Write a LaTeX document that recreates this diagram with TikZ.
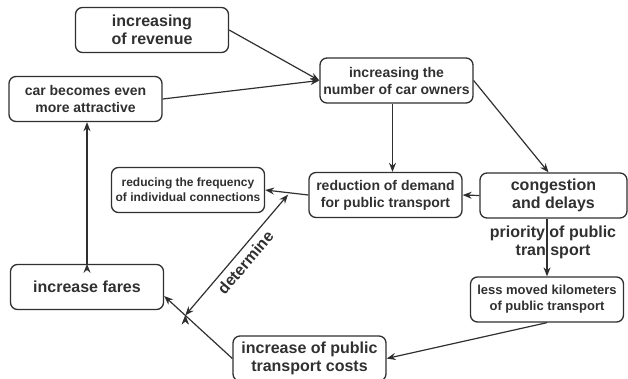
\documentclass[tikz,border=0pt]{standalone}
\usepackage{fontspec}
\setmainfont{Liberation Sans}
\usetikzlibrary{arrows.meta,positioning}
\definecolor{inkgray}{HTML}{303030}
\tikzset
{
    causebox/.style  = {rectangle, rounded corners=7pt, draw=inkgray, line width=1.3pt, align=center, minimum width=153pt, minimum height=45pt, inner sep=1pt, text=inkgray, font=\bfseries\fontsize{14}{17}\selectfont},
    bigtext/.style   = {font=\bfseries\fontsize{16}{18.5}\selectfont},
    smalltext/.style = {font=\bfseries\fontsize{12}{15}\selectfont},
    link/.style      = {draw=inkgray, line width=1.2pt, ->, >={Stealth[length=9pt,width=7pt]}},
    twolink/.style   = {draw=inkgray, line width=1.2pt, <->, >={Stealth[length=9pt,width=7pt]}},
    edgetext/.style  = {text=inkgray, align=center, font=\bfseries\fontsize{16}{18}\selectfont}
}

\begin{document}
\begin{tikzpicture}[x=1pt, y=-1pt]
   \useasboundingbox (0,0) rectangle (628,378);

   \node (rev)   [causebox, bigtext]                      at (152, 30)    {increasing\\of revenue};
   \node (car)   [causebox]                               at (85.5, 99)   {car becomes even\\more attractive};
   \node (own)   [causebox]                               at (396.5, 80.5) {increasing the\\number of car owners};
   \node (freq)  [causebox, smalltext]                    at (188, 190)   {reducing the frequency\\of individual connections};
   \node (dem)   [causebox]                               at (385.5, 195) {reduction of demand\\for public transport};
   \node (cong)  [causebox, bigtext, minimum width=147pt] at (553.5, 195.5) {congestion\\and delays};
   \node (less)  [causebox, font=\bfseries\fontsize{13}{16}\selectfont] at (547, 299.5) {less moved kilometers\\of public transport};
   \node (cost)  [causebox, bigtext]                      at (309.5, 358.5) {increase of public\\transport costs};
   \node (fares) [causebox, bigtext]                      at (87, 287)    {increase fares};

   % points where the double arrow meets the other two lines
   \path (dem.west)  -- (freq.east)                 coordinate[pos=0.47] (dm);
   \path (cost.west) -- ([yshift=-9pt]fares.east)   coordinate[pos=0.69] (cf);

   \node (prio) [edgetext] at (553, 242) {priority of public\\tran sport};

   \path[link]
      (rev.east)                      edge  (own.west)
      (car.east)                      edge  (own.west)
      ([xshift=-4pt]own.south)        edge  ([xshift=-4pt]own.south |- dem.north)
      (own.east)                      edge  ([xshift=-5pt]cong.north)
      (cong.west)                     edge  (dem.east)
      (dem.west)                      edge  (freq.east)
      (less.north |- cong.south)      edge  (less.north)
      (less.south)                    edge  (cost.east)
      (cost.west)                     edge  ([yshift=-9pt]fares.east)
      (fares.north)                   edge  (fares.north |- car.south);

   \path[twolink]
      (cf) edge node[sloped, below, inner sep=5pt, text=inkgray, font=\bfseries\fontsize{16}{18}\selectfont] {determine} ([yshift=-2pt]dm);
\end{tikzpicture}
\end{document}
